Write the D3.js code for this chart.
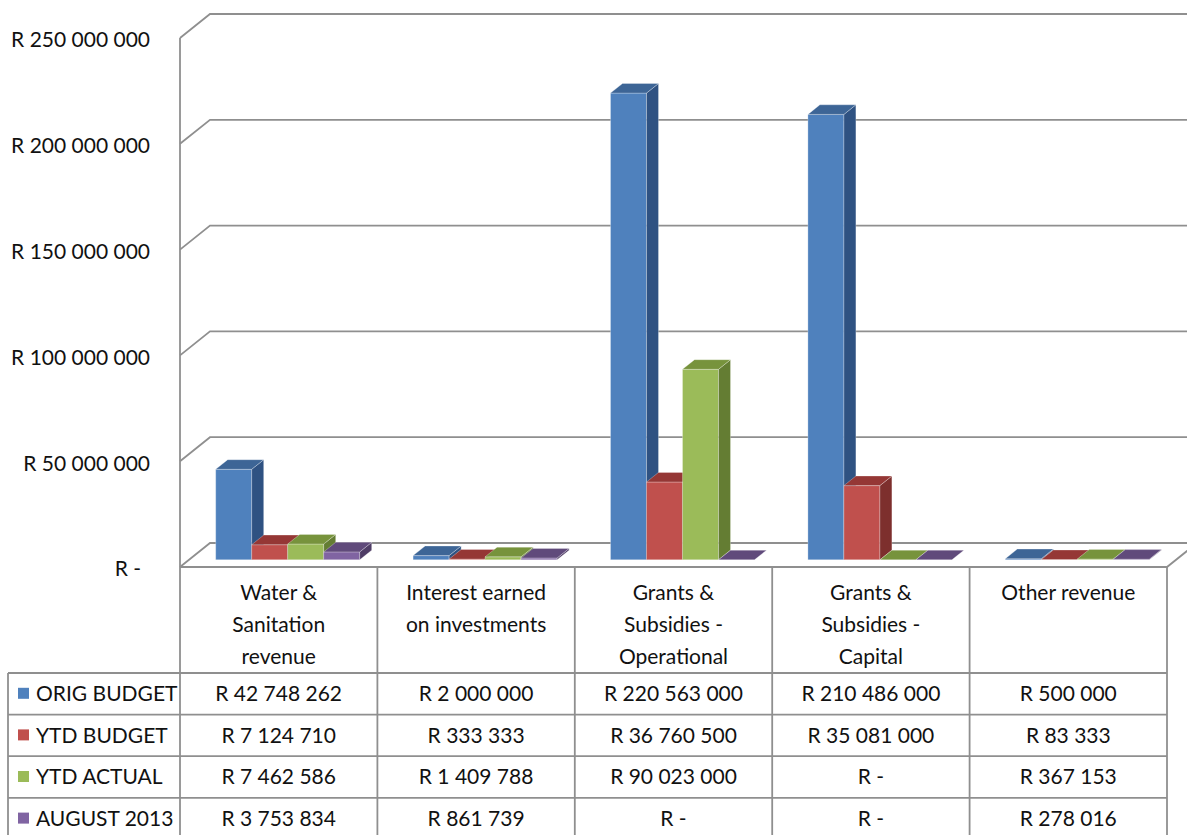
<!DOCTYPE html>
<html>
<head>
<meta charset="utf-8">
<script src="https://cdn.jsdelivr.net/npm/d3@7"></script>
<style>
  body { margin: 0; background: #fff; }
  svg { display: block; font-family: Lato, "Open Sans", sans-serif; }
</style>
</head>
<body>
<svg id="chart"></svg>
<script>
var svgWidth = 1187, svgHeight = 835;

var categories = [
  ['Water &', 'Sanitation', 'revenue'],
  ['Interest earned', 'on investments'],
  ['Grants &', 'Subsidies -', 'Operational'],
  ['Grants &', 'Subsidies -', 'Capital'],
  ['Other revenue']
];
var seriesNames = ['ORIG BUDGET', 'YTD BUDGET', 'YTD ACTUAL', 'AUGUST 2013'];
var origBudget = [42748262, 2000000, 220563000, 210486000, 500000];
var ytdBudget  = [7124710, 333333, 36760500, 35081000, 83333];
var ytdActual  = [7462586, 1409788, 90023000, 0, 367153];
var august2013 = [3753834, 861739, 0, 0, 278016];
var yTicks = [0, 50000000, 100000000, 150000000, 200000000, 250000000];

var seriesValues = [origBudget, ytdBudget, ytdActual, august2013];
// front, top, side
var colors = [
  ['#4f81bd', '#3d6596', '#2f5282'],
  ['#c0504d', '#953735', '#7d2f2d'],
  ['#9bbb59', '#77933c', '#647d33'],
  ['#8064a2', '#604a7b', '#4f3d66']
];

var left = 180, right = 1167, floorY = 567, topY = 38;
var DX = 30, DY = 24;          // depth of the 3d box
var zf = 0.3, zb = 0.7;        // bar depth position

var locale = d3.formatLocale({ decimal: '.', thousands: ' ', grouping: [3], currency: ['R ', ''] });
var fmt = locale.format(',d');
function money(v) { return v === 0 ? 'R -' : 'R ' + fmt(v); }

var catIdx = d3.range(categories.length);
var x = d3.scaleBand().domain(catIdx).range([left, right]).paddingInner(0).paddingOuter(0);
var xs = d3.scaleBand().domain(d3.range(seriesNames.length)).range([0, x.bandwidth()]).paddingInner(0).paddingOuter(0.74);
var y = d3.scaleLinear().domain([0, 250000000]).range([floorY, topY]);

function P(px, v, z) { return [px + z * DX, y(v) - z * DY]; }
function poly(pts) { return 'M' + pts.map(function (p) { return p[0].toFixed(1) + ',' + p[1].toFixed(1); }).join('L') + 'Z'; }

var svg = d3.select('#chart').attr('width', svgWidth).attr('height', svgHeight);
var gridColor = '#8f8f8f';

// gridlines: side wall diagonal + back wall line
var grid = svg.append('g').attr('class', 'grid');
grid.selectAll('path')
  .data(yTicks).enter()
  .append('path')
  .attr('fill', 'none')
  .attr('stroke', gridColor)
  .attr('stroke-width', 1.8)
  .attr('d', function (d) {
    var a = P(left, d, 0), b = P(left, d, 1), c = P(right, d, 1);
    return 'M' + a + 'L' + b + 'L' + c;
  });

// floor front edge and right diagonal
grid.append('path')
  .attr('fill', 'none')
  .attr('stroke', gridColor)
  .attr('stroke-width', 1.8)
  .attr('d', 'M' + P(left, 0, 0) + 'L' + P(right, 0, 0) + 'L' + P(right, 0, 1));

// vertical axis line
grid.append('line')
  .attr('x1', left).attr('x2', left)
  .attr('y1', y(250000000)).attr('y2', svgHeight)
  .attr('stroke', gridColor).attr('stroke-width', 1.8);

// y labels
svg.append('g').selectAll('text')
  .data(yTicks).enter()
  .append('text')
  .attr('x', function (d) { return d === 0 ? 141 : 150; })
  .attr('y', function (d) { return y(d) + 2; })
  .attr('dy', '0.35em')
  .attr('text-anchor', 'end')
  .attr('font-size', 21)
  .attr('fill', '#111')
  .text(money);

// bars
var bars = svg.append('g').attr('class', 'bars');
catIdx.forEach(function (ci) {
  seriesValues.forEach(function (vals, si) {
    var v = vals[ci];
    var x0 = x(ci) + xs(si), x1 = x0 + xs.bandwidth();
    var g = bars.append('g');
    g.append('path').attr('fill', colors[si][0])
      .attr('d', poly([P(x0, 0, zf), P(x1, 0, zf), P(x1, v, zf), P(x0, v, zf)]));
    g.append('path').attr('fill', colors[si][2])
      .attr('d', poly([P(x1, 0, zf), P(x1, 0, zb), P(x1, v, zb), P(x1, v, zf)]));
    g.append('path').attr('fill', colors[si][1])
      .attr('d', poly([P(x0, v, zf), P(x1, v, zf), P(x1, v, zb), P(x0, v, zb)]));
    g.selectAll('path').attr('stroke', 'rgba(255,255,255,0.35)').attr('stroke-width', 0.8);
  });
});

// data table
var headerBottom = 673, rowH = 41.6;
var table = svg.append('g').attr('class', 'table');

var colEdges = catIdx.map(function (i) { return x(i); }).concat([right]);
table.selectAll('line.col')
  .data(colEdges.slice(1)).enter()
  .append('line')
  .attr('class', 'col')
  .attr('x1', function (d) { return d; }).attr('x2', function (d) { return d; })
  .attr('y1', floorY).attr('y2', svgHeight)
  .attr('stroke', gridColor).attr('stroke-width', 1.8);

table.append('line')
  .attr('x1', 8).attr('x2', 8)
  .attr('y1', headerBottom).attr('y2', svgHeight)
  .attr('stroke', gridColor).attr('stroke-width', 1.8);

table.selectAll('line.row')
  .data(d3.range(seriesNames.length)).enter()
  .append('line')
  .attr('class', 'row')
  .attr('x1', 8).attr('x2', right)
  .attr('y1', function (d) { return headerBottom + d * rowH; })
  .attr('y2', function (d) { return headerBottom + d * rowH; })
  .attr('stroke', gridColor).attr('stroke-width', 1.8);

// category headers
var heads = table.selectAll('text.head')
  .data(categories).enter()
  .append('text')
  .attr('class', 'head')
  .attr('text-anchor', 'middle')
  .attr('font-size', 21)
  .attr('fill', '#111');
heads.selectAll('tspan')
  .data(function (d, i) { return d.map(function (t) { return { t: t, i: i }; }); })
  .enter().append('tspan')
  .attr('x', function (d) { return x(d.i) + x.bandwidth() / 2; })
  .attr('y', function (d, j) { return 593 + j * 32; })
  .attr('dy', '0.35em')
  .text(function (d) { return d.t; });

// legend column
var legendRows = table.selectAll('g.legend')
  .data(seriesNames).enter()
  .append('g')
  .attr('class', 'legend')
  .attr('transform', function (d, i) { return 'translate(0,' + (headerBottom + i * rowH + rowH / 2) + ')'; });
legendRows.append('rect')
  .attr('x', 18).attr('y', -6).attr('width', 11).attr('height', 11)
  .attr('fill', function (d, i) { return colors[i][0]; });
legendRows.append('text')
  .attr('x', 36).attr('dy', '0.35em')
  .attr('font-size', 21).attr('fill', '#111')
  .text(function (d) { return d; });

// values
seriesValues.forEach(function (vals, si) {
  table.append('g').selectAll('text')
    .data(vals).enter()
    .append('text')
    .attr('x', function (d, ci) { return x(ci) + x.bandwidth() / 2; })
    .attr('y', headerBottom + si * rowH + rowH / 2)
    .attr('dy', '0.35em')
    .attr('text-anchor', 'middle')
    .attr('font-size', 21).attr('fill', '#111')
    .text(money);
});
</script>
</body>
</html>
